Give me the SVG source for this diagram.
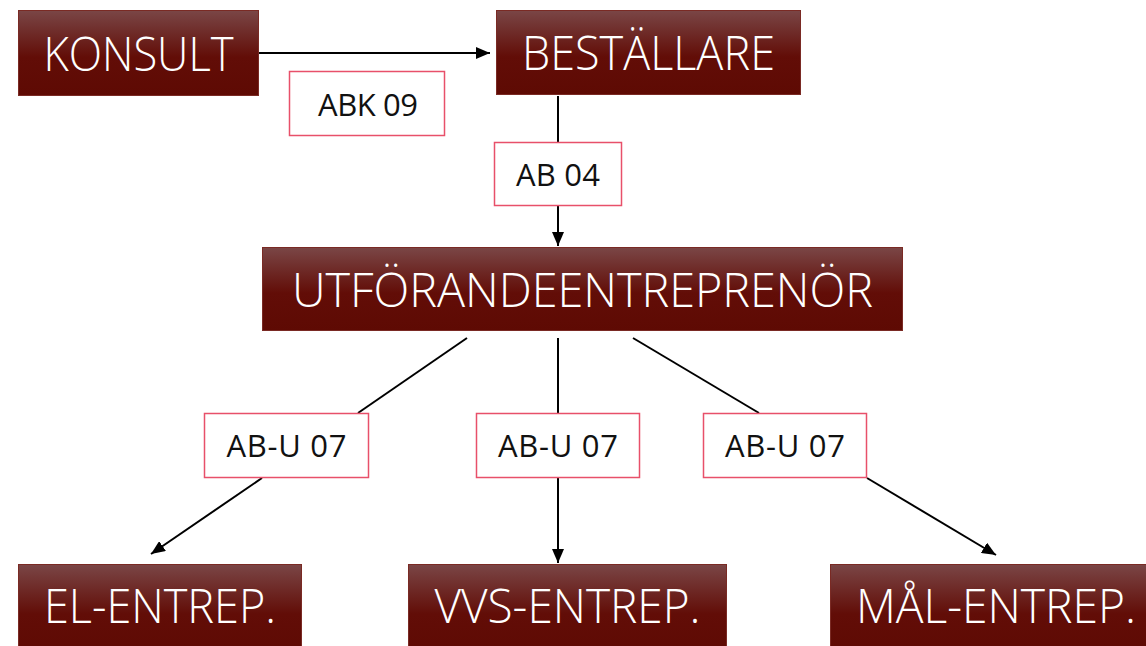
<svg xmlns="http://www.w3.org/2000/svg" width="1146" height="646" viewBox="0 0 1146 646">
<defs>
<linearGradient id="g" x1="0" y1="0" x2="0" y2="1">
<stop offset="0" stop-color="#7a4646"/>
<stop offset="0.55" stop-color="#620d07"/>
<stop offset="1" stop-color="#5e0a03"/>
</linearGradient>
<marker id="ah" viewBox="0 0 14 12" refX="14" refY="6" markerWidth="14" markerHeight="12" markerUnits="userSpaceOnUse" orient="auto">
<path d="M0,0 L14,6 L0,12 Z" fill="#000"/>
</marker>
<style>
.node rect{fill:url(#g);stroke:#7a2a24;stroke-width:1}
.node text{fill:#fff;font-family:"Open Sans","Liberation Sans",sans-serif;font-weight:300;font-size:47px;text-anchor:middle;dominant-baseline:central}
.lbl rect{fill:#fff;stroke:#e8506a;stroke-width:1.5}
.lbl text{fill:#111;font-family:"Open Sans","Liberation Sans",sans-serif;font-weight:400;font-size:31px;text-anchor:middle;dominant-baseline:central}
.c line{stroke:#000;stroke-width:2;fill:none}
</style>
</defs>
<rect width="1146" height="646" fill="#fff"/>
<g id="connectors" class="c">
<line x1="259" y1="53" x2="490" y2="53" marker-end="url(#ah)"/>
<line x1="558" y1="96" x2="558" y2="142"/>
<line x1="558" y1="206" x2="558" y2="246" marker-end="url(#ah)"/>
<line x1="467" y1="338" x2="358" y2="413"/>
<line x1="262" y1="478" x2="151" y2="554" marker-end="url(#ah)"/>
<line x1="558" y1="338" x2="558" y2="413"/>
<line x1="558" y1="478" x2="558" y2="563" marker-end="url(#ah)"/>
<line x1="633" y1="338" x2="759" y2="413"/>
<line x1="867" y1="478" x2="996" y2="555" marker-end="url(#ah)"/>
</g>
<g id="konsult" class="node"><rect x="18.5" y="10.5" width="240" height="85"/><text x="138.5" y="53" textLength="190" lengthAdjust="spacingAndGlyphs">KONSULT</text></g>
<g id="bestallare" class="node"><rect x="496.5" y="10.5" width="304" height="84"/><text x="648.5" y="52" textLength="253" lengthAdjust="spacingAndGlyphs">BESTÄLLARE</text></g>
<g id="utforande" class="node"><rect x="262.5" y="247.5" width="640" height="83"/><text x="582.5" y="289" textLength="581" lengthAdjust="spacingAndGlyphs">UTFÖRANDEENTREPRENÖR</text></g>
<g id="el" class="node"><rect x="18.5" y="564.5" width="283" height="90"/><text x="160" y="605" textLength="232" lengthAdjust="spacingAndGlyphs">EL-ENTREP.</text></g>
<g id="vvs" class="node"><rect x="408.5" y="564.5" width="318" height="90"/><text x="567.5" y="605" textLength="266" lengthAdjust="spacingAndGlyphs">VVS-ENTREP.</text></g>
<g id="mal" class="node"><rect x="830.5" y="564.5" width="330" height="90"/><text x="996" y="605" textLength="280" lengthAdjust="spacingAndGlyphs">MÅL-ENTREP.</text></g>
<g id="abk09" class="lbl"><rect x="289.5" y="71.5" width="155" height="64"/><text x="368" y="103.5" textLength="100">ABK 09</text></g>
<g id="ab04" class="lbl"><rect x="494.5" y="142.5" width="127" height="63"/><text x="558" y="174" textLength="84">AB 04</text></g>
<g id="abu1" class="lbl"><rect x="204.5" y="413.5" width="164" height="64"/><text x="286.5" y="445" textLength="120">AB-U 07</text></g>
<g id="abu2" class="lbl"><rect x="476.5" y="413.5" width="163" height="64"/><text x="558" y="445" textLength="120">AB-U 07</text></g>
<g id="abu3" class="lbl"><rect x="703.5" y="413.5" width="163" height="64"/><text x="785" y="445" textLength="120">AB-U 07</text></g>
</svg>
